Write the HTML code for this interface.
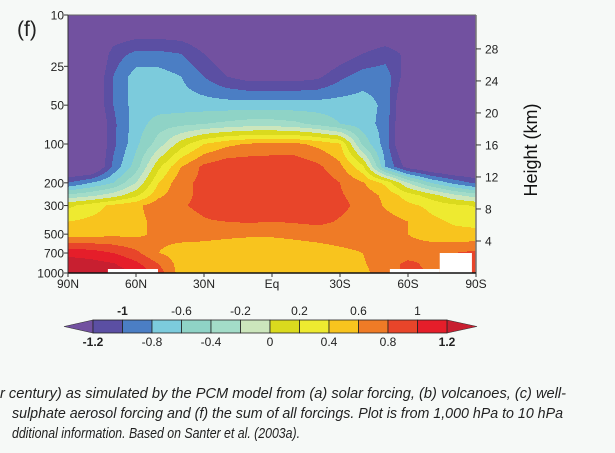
<!DOCTYPE html>
<html><head><meta charset="utf-8">
<style>
html,body{margin:0;padding:0;background:#f6f9f7;}
svg{display:block;font-family:"Liberation Sans",sans-serif;}
</style></head>
<body>
<svg id="chart" width="615" height="453" viewBox="0 0 615 453">
<rect width="615" height="453" fill="#f6f9f7"/>
<g id="field"></g>
<g id="axes"></g>
<g id="cbar"></g>
<text x="17" y="36" font-size="21" fill="#222">(f)</text>
<text transform="translate(537,150) rotate(-90)" text-anchor="middle" font-size="18" fill="#111">Height (km)</text>
<g font-family="'Liberation Sans Narrow','Liberation Sans',sans-serif" font-style="italic" font-size="15" fill="#222">
<text x="0" y="398" textLength="566" lengthAdjust="spacingAndGlyphs">r century) as simulated by the PCM model from (a) solar forcing, (b) volcanoes, (c) well-</text>
<text x="12" y="418" textLength="551" lengthAdjust="spacingAndGlyphs">sulphate aerosol forcing and (f) the sum of all forcings. Plot is from 1,000 hPa to 10 hPa</text>
<text x="12" y="438" textLength="288" lengthAdjust="spacingAndGlyphs">dditional information. Based on Santer et al. (2003a).</text>
</g>
</svg>
<script>
// ---- data ----
const lats = [90,80,70,60,50,40,30,20,10,0,-10,-20,-30,-40,-50,-60,-70,-80,-90];
const levels = [1000,850,700,500,400,300,250,200,150,100,70,50,30,20,10];
const v1000 = [1.35,1.3,1.3,1.2,0.9,0.5,0.5,0.5,0.5,0.5,0.5,0.5,0.5,0.55,0.7,0.85,0.8,0.8,0.8];
const v850  = [1.3,1.28,1.22,1.05,0.8,0.5,0.48,0.47,0.46,0.46,0.47,0.48,0.5,0.58,0.7,0.85,0.75,0.8,0.9];
const v700  = [1.15,1.1,1.0,0.85,0.6,0.5,0.5,0.48,0.45,0.45,0.48,0.5,0.55,0.6,0.7,0.7,0.75,0.8,0.85];
const v500  = [0.5,0.52,0.55,0.55,0.65,0.68,0.66,0.64,0.63,0.63,0.65,0.68,0.7,0.7,0.68,0.6,0.5,0.45,0.45];
const v400  = [0.4,0.45,0.5,0.55,0.65,0.72,0.78,0.8,0.82,0.8,0.82,0.85,0.78,0.72,0.68,0.6,0.45,0.38,0.35];
const v300  = [0.15,0.3,0.45,0.55,0.72,0.78,0.85,0.96,0.98,0.98,0.97,0.95,0.85,0.74,0.58,0.45,0.35,0.25,0.18];
const v250  = [-0.35,-0.25,-0.1,0.15,0.55,0.75,0.85,0.97,0.98,0.98,0.97,0.95,0.82,0.72,0.55,0.3,0.1,-0.15,-0.3];
const v200  = [-1.0,-0.8,-0.6,-0.2,0.4,0.75,0.85,0.95,0.97,0.97,0.97,0.95,0.8,0.62,0.35,-0.2,-0.6,-0.85,-1.05];
const v150  = [-1.6,-1.6,-0.95,-0.5,0.15,0.6,0.85,0.95,0.95,0.95,0.95,0.85,0.65,0.25,-0.8,-1.3,-1.5,-1.6,-1.6];
const v100  = [-1.6,-1.6,-1.05,-0.65,-0.3,0.1,0.4,0.55,0.62,0.65,0.65,0.55,0.42,-0.45,-0.9,-1.6,-1.6,-1.6,-1.6];
const v70   = [-1.6,-1.6,-1.05,-0.7,-0.5,-0.45,-0.4,-0.35,-0.3,-0.3,-0.35,-0.45,-0.6,-0.7,-0.88,-1.6,-1.6,-1.6,-1.6];
const v50   = [-1.6,-1.5,-1.0,-0.7,-0.7,-0.7,-0.7,-0.7,-0.7,-0.7,-0.7,-0.7,-0.7,-0.7,-0.85,-1.6,-1.6,-1.6,-1.6];
const v30   = [-1.6,-1.5,-1.0,-0.7,-0.7,-0.8,-1.0,-1.2,-1.3,-1.3,-1.3,-1.25,-1.05,-0.9,-0.88,-1.35,-1.5,-1.6,-1.6];
const v20   = [-1.6,-1.6,-1.1,-0.95,-0.95,-1.0,-1.2,-1.4,-1.5,-1.5,-1.5,-1.5,-1.35,-1.2,-1.1,-1.25,-1.5,-1.6,-1.6];
const v10   = [-1.6,-1.6,-1.6,-1.6,-1.6,-1.6,-1.6,-1.6,-1.6,-1.6,-1.6,-1.6,-1.6,-1.6,-1.6,-1.6,-1.6,-1.6,-1.6];
const fieldRows = [v1000,v850,v700,v500,v400,v300,v250,v200,v150,v100,v70,v50,v30,v20,v10];
// missing-data regions: [latFrom, latTo], [pressureFrom, pressureTo]
const missingLat1 = [72.4, 50.3]; const missingP1 = [931, 1000];
const missingLat2 = [-74, -88.2]; const missingP2 = [700, 1000];
const missingLat3 = [-52, -74]; const missingP3 = [931, 1000];
const contourLevels = [-1.2,-1.0,-0.8,-0.6,-0.4,-0.2,0,0.2,0.4,0.6,0.8,1.0,1.2];
const colors = ["#7251a0","#5b4fa3","#4b7ec4","#7ccbdc","#8fd3c6","#a3dcc8","#cce6bc","#dada1e","#eeea30","#f8c41e","#ef7b26","#e8452a","#e51e2a","#c81f30"];
const cbarTop = ["-1","-0.6","-0.2","0.2","0.6","1"];
const cbarBottom = ["-1.2","-0.8","-0.4","0","0.4","0.8","1.2"];
const pTicks = [10,25,50,100,200,300,500,700,1000];
const latTicks = [90,60,30,0,-30,-60,-90];
const latTickLabels = ["90N","60N","30N","Eq","30S","60S","90S"];
const kmTicks = [4,8,12,16,20,24,28];

// ---- scales ----
const X0=68, X1=476, Y0=15, Y1=273;
const xLat = lat => X0 + (90-lat)/180*(X1-X0);
const yP = p => Y0 + (Math.log10(p)-1)/2*(Y1-Y0);
const yKm = km => yP(1000*Math.exp(-km/7.0));
const NS="http://www.w3.org/2000/svg";
function mk(tag, attrs, parent){const e=document.createElementNS(NS,tag);for(const k in attrs)e.setAttribute(k,attrs[k]);parent.appendChild(e);return e;}
function colorOf(v){let k=0;while(k<contourLevels.length&&v>=contourLevels[k])k++;return colors[k];}

// ---- field ----
const field=document.getElementById('field');
const colX=lats.map(xLat), rowY=levels.map(yP);
function valueAt(x,y){
  let i=0;while(i<colX.length-2&&x>colX[i+1])i++;
  let j=0;while(j<rowY.length-2&&y<rowY[j+1])j++;
  const tx=Math.min(1,Math.max(0,(x-colX[i])/(colX[i+1]-colX[i])));
  const ty=Math.min(1,Math.max(0,(y-rowY[j])/(rowY[j+1]-rowY[j])));
  const a=fieldRows[j][i],b=fieldRows[j][i+1],c=fieldRows[j+1][i],d=fieldRows[j+1][i+1];
  return (a*(1-tx)+b*tx)*(1-ty)+(c*(1-tx)+d*tx)*ty;
}
for(let y=Y0;y<Y1;y++){
  let runStart=X0, runCol=null;
  for(let x=X0;x<=X1;x++){
    const col = x<X1 ? colorOf(valueAt(x+0.5,y+0.5)) : null;
    if(col!==runCol){
      if(runCol!==null){
        const r=mk('rect',{x:runStart,y:y,width:x-runStart,height:1.05,fill:runCol},field);
        
        
      }
      runStart=x;runCol=col;
    }
  }
}
[[missingLat1,missingP1],[missingLat2,missingP2],[missingLat3,missingP3]].forEach(m=>{
  const x=xLat(m[0][0]),x2=xLat(m[0][1]),y=yP(m[1][0]),y2=yP(m[1][1]);
  const r=mk('rect',{x:x,y:y,width:x2-x,height:y2-y,fill:"#ffffff"},field);
  
  
});

// ---- axes ----
const axes=document.getElementById('axes');
mk('line',{x1:X0,y1:Y0,x2:X1,y2:Y0,stroke:"#666","stroke-width":1},axes);
mk('line',{x1:X0,y1:Y0,x2:X0,y2:Y1,stroke:"#333","stroke-width":1},axes);
mk('line',{x1:X1,y1:Y0,x2:X1,y2:Y1,stroke:"#777","stroke-width":1.5},axes);
mk('line',{x1:X0,y1:Y1,x2:X1,y2:Y1,stroke:"#111","stroke-width":1.5},axes);
pTicks.forEach(p=>{
  const y=yP(p);
  mk('line',{x1:X0-4,y1:y,x2:X0,y2:y,stroke:"#333"},axes);
  const t=mk('text',{x:X0-4,y:y+4.5,"text-anchor":"end","font-size":12,fill:"#222"},axes);
  t.textContent=p;
  
  
});
latTicks.forEach((lat,k)=>{
  const x=xLat(lat);
  mk('line',{x1:x,y1:Y1,x2:x,y2:Y1+4,stroke:"#333"},axes);
  const t=mk('text',{x:x,y:Y1+15,"text-anchor":"middle","font-size":12,fill:"#222"},axes);
  t.textContent=latTickLabels[k];
  
  
});
kmTicks.forEach(km=>{
  const y=yKm(km);
  mk('line',{x1:X1,y1:y,x2:X1+5,y2:y,stroke:"#333"},axes);
  const t=mk('text',{x:X1+9,y:y+4.5,"font-size":12,fill:"#222"},axes);
  t.textContent=km;
  
  
});

// ---- colorbar ----
const cb=document.getElementById('cbar');
const CB0=93, CB1=447, CBT=320, CBB=333, nBox=contourLevels.length-1, bw=(CB1-CB0)/nBox;
const tl=mk('polygon',{points:`${CB0},${CBT} ${CB0},${CBB} 64,${(CBT+CBB)/2}`,fill:colors[0],stroke:"#333","stroke-width":0.6},cb);


const tr=mk('polygon',{points:`${CB1},${CBT} ${CB1},${CBB} 477,${(CBT+CBB)/2}`,fill:colors[colors.length-1],stroke:"#333","stroke-width":0.6},cb);


for(let k=0;k<nBox;k++){
  const r=mk('rect',{x:CB0+k*bw,y:CBT,width:bw,height:CBB-CBT,fill:colors[k+1],stroke:"#222","stroke-width":0.8},cb);
  
  
}
cbarTop.forEach((s,k)=>{
  const t=mk('text',{x:CB0+(1+2*k)*bw,y:CBT-5,"text-anchor":"middle","font-size":12,fill:"#222","font-weight":k===0?"bold":"normal"},cb);
  t.textContent=s;
  
  
});
cbarBottom.forEach((s,k)=>{
  const t=mk('text',{x:CB0+2*k*bw,y:CBB+13,"text-anchor":"middle","font-size":12,fill:"#222","font-weight":(k===0||k===6)?"bold":"normal"},cb);
  t.textContent=s;
  
  
});
</script>
</body></html>
